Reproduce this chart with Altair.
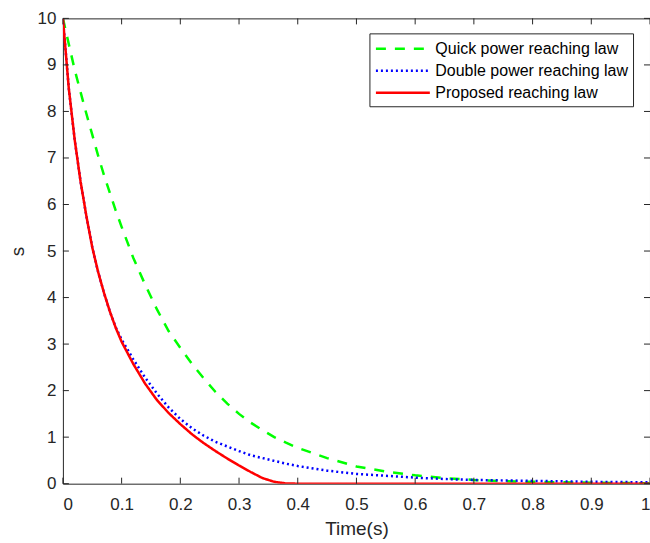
import altair as alt
import pandas as pd

t = [0, 0.01, 0.02, 0.03, 0.04, 0.05, 0.06, 0.07, 0.08, 0.09, 0.10, 0.12, 0.14,
     0.16, 0.18, 0.20, 0.22, 0.24, 0.26, 0.28, 0.30, 0.32, 0.34, 0.36, 0.38,
     0.40, 0.45, 0.50, 0.55, 0.60, 0.65, 0.70, 0.75, 0.80, 0.85, 0.90, 0.95, 1.00]

quick = [10, 9.45, 8.9, 8.42, 7.95, 7.5, 7.05, 6.63, 6.25, 5.87, 5.52, 4.85, 4.28,
         3.75, 3.28, 2.92, 2.57, 2.26, 1.97, 1.72, 1.50, 1.31, 1.15, 1.00, 0.88,
         0.77, 0.55, 0.37, 0.26, 0.18, 0.12, 0.08, 0.055, 0.04, 0.03, 0.02, 0.015, 0.01]

double = [10, 8.5, 7.4, 6.5, 5.75, 5.08, 4.55, 4.1, 3.7, 3.36, 3.10, 2.67, 2.28,
          1.94, 1.64, 1.39, 1.19, 1.03, 0.90, 0.80, 0.70, 0.61, 0.55, 0.49, 0.43,
          0.38, 0.28, 0.21, 0.17, 0.13, 0.10, 0.08, 0.07, 0.06, 0.05, 0.04, 0.035, 0.03]

proposed = [10, 8.5, 7.4, 6.5, 5.75, 5.08, 4.55, 4.1, 3.7, 3.35, 3.05, 2.57, 2.15,
            1.80, 1.52, 1.28, 1.06, 0.87, 0.70, 0.54, 0.39, 0.25, 0.12, 0.04, 0.005,
            0, 0, 0, 0, 0, 0, 0, 0, 0, 0, 0, 0, 0]

names = ["Quick power reaching law", "Double power reaching law", "Proposed reaching law"]
colors = ["#00ff00", "#0000ff", "#ff0000"]
dashes = [[10, 9], [2, 3], [1, 0]]

x_ticks = [0, 0.1, 0.2, 0.3, 0.4, 0.5, 0.6, 0.7, 0.8, 0.9, 1]
y_ticks = [0, 1, 2, 3, 4, 5, 6, 7, 8, 9, 10]

rows = []
for i, (name, ys) in enumerate(zip(names, [quick, double, proposed])):
    for tv, sv in zip(t, ys):
        rows.append({"t": tv, "s": sv, "law": name, "order": i})
df = pd.DataFrame(rows)

xt = pd.DataFrame({"v": x_ticks})
yt = pd.DataFrame({"v": y_ticks})

W, H = 588, 466
FONT = "Liberation Sans"
AX = "#262626"

xscale = alt.Scale(domain=[0, 1], nice=False)
yscale = alt.Scale(domain=[0, 10], nice=False)

leg = alt.Legend(title=None, orient="none", legendX=307, legendY=15)

lines = alt.Chart(df).mark_line(strokeWidth=2.5, clip=True).encode(
    x=alt.X("t:Q", scale=xscale, title="Time(s)",
            axis=alt.Axis(values=x_ticks, format=".1~f", domain=False, ticks=False,
                          grid=False, labelPadding=13, titlePadding=7)),
    y=alt.Y("s:Q", scale=yscale, title="s",
            axis=alt.Axis(values=y_ticks, format="d", domain=False, ticks=False,
                          grid=False, labelPadding=7, titlePadding=10)),
    color=alt.Color("law:N", sort=names,
                    scale=alt.Scale(domain=names, range=colors), legend=leg),
    strokeDash=alt.StrokeDash("law:N", sort=names,
                              scale=alt.Scale(domain=names, range=dashes), legend=leg),
    order="order:Q",
    detail="law:N",
)

tick_len = 6
top_ticks = alt.Chart(xt).mark_rule(color=AX, strokeWidth=1).encode(
    x=alt.X("v:Q", scale=xscale), y=alt.value(0), y2=alt.value(tick_len))
bot_ticks = alt.Chart(xt).mark_rule(color=AX, strokeWidth=1).encode(
    x=alt.X("v:Q", scale=xscale), y=alt.value(H - tick_len), y2=alt.value(H))
left_ticks = alt.Chart(yt).mark_rule(color=AX, strokeWidth=1).encode(
    y=alt.Y("v:Q", scale=yscale), x=alt.value(0), x2=alt.value(tick_len))
right_ticks = alt.Chart(yt).mark_rule(color=AX, strokeWidth=1).encode(
    y=alt.Y("v:Q", scale=yscale), x=alt.value(W - tick_len), x2=alt.value(W))

chart = alt.layer(lines, top_ticks, bot_ticks, left_ticks, right_ticks).properties(
    width=W, height=H,
    autosize=alt.AutoSizeParams(type="none"),
    padding={"left": 63, "top": 18, "right": 0, "bottom": 59},
).configure_view(
    stroke=AX, strokeWidth=1
).configure_axis(
    labelFont=FONT, titleFont=FONT, labelFontSize=17, titleFontSize=19,
    labelColor=AX, titleColor=AX, titleFontWeight="normal",
).configure_legend(
    labelFont=FONT, labelFontSize=16, labelColor="#000000", labelLimit=400,
    symbolType="M-3,0L3,0", symbolSize=324, symbolStrokeWidth=2.5,
    symbolOffset=18, labelOffset=22,
    strokeColor=AX, fillColor="white", padding=5, rowPadding=3,
    cornerRadius=0,
)

chart.save("out.html", embed_options={"renderer": "svg", "actions": False})
